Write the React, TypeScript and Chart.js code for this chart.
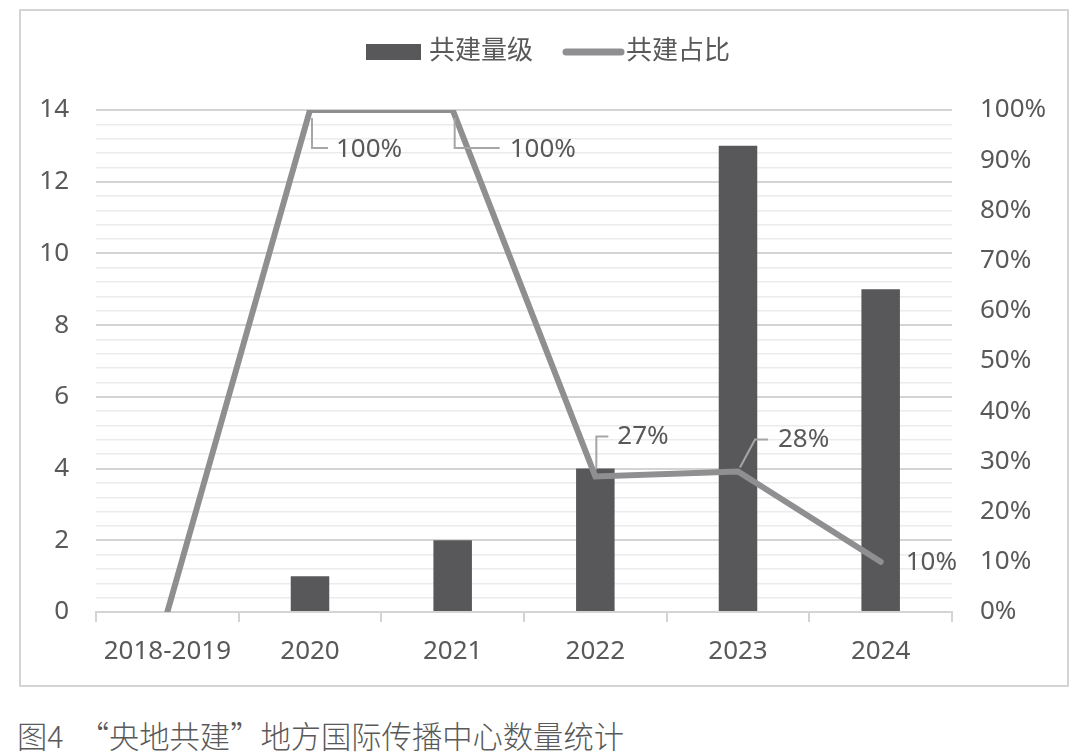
import React, { useEffect, useRef } from "react";
import { Chart, registerables } from "chart.js";

Chart.register(...registerables);

const categories = ["2018-2019", "2020", "2021", "2022", "2023", "2024"];
const countValues = [0, 1, 2, 4, 13, 9];
const shareValues = [0, 100, 100, 27, 28, 10];
const shareLabels = ["", "100%", "100%", "27%", "28%", "10%"];
const seriesNames = ["共建量级", "共建占比"];
const captionText = "图4　“央地共建”地方国际传播中心数量统计";

// label placement relative to each line point (style only)
const labelLayout = [
  null,
  { leader: [[2, 8], [2, 38], [18, 38]], tx: 26, ty: 40 },
  { leader: [[2, 8], [2, 38], [47, 38]], tx: 57, ty: 40 },
  { leader: [[1, -7], [1, -40], [13, -40]], tx: 22, ty: -40 },
  { leader: [[2, -4], [17, -32], [30, -32]], tx: 40, ty: -32 },
  { leader: null, tx: 25, ty: 1 },
];

const FONT = "'Noto Sans', 'Noto Sans CJK SC', sans-serif";
const TEXT = "#595959";
const BAR = "#58585a";
const LINE = "#8f8f91";

const labelPlugin = {
  id: "shareLabels",
  afterDatasetsDraw(chart: any) {
    const ctx = chart.ctx;
    const meta = chart.getDatasetMeta(1);
    ctx.save();
    ctx.font = `26px ${FONT}`;
    ctx.fillStyle = TEXT;
    ctx.textBaseline = "middle";
    ctx.textAlign = "left";
    meta.data.forEach((pt: any, i: number) => {
      const lay = labelLayout[i];
      if (!lay || !shareLabels[i]) return;
      const x = pt.x, y = pt.y;
      if (lay.leader) {
        ctx.strokeStyle = "#a6a6a6";
        ctx.lineWidth = 2;
        ctx.beginPath();
        lay.leader.forEach((p: number[], k: number) => {
          if (k === 0) ctx.moveTo(x + p[0], y + p[1]);
          else ctx.lineTo(x + p[0], y + p[1]);
        });
        ctx.stroke();
      }
      ctx.fillText(shareLabels[i], x + lay.tx, y + lay.ty);
    });
    ctx.restore();
  },
};

const legendPlugin = {
  id: "customLegend",
  afterDraw(chart: any) {
    const ctx = chart.ctx;
    ctx.save();
    ctx.font = `26px ${FONT}`;
    const w1 = ctx.measureText(seriesNames[0]).width;
    const w2 = ctx.measureText(seriesNames[1]).width;
    const sw1 = 55, sw2 = 61, g1 = 8, g2 = 30, g3 = 2;
    const total = sw1 + g1 + w1 + g2 + sw2 + g3 + w2;
    let x = chart.width / 2 + 4 - total / 2;
    const cy = 41;
    ctx.fillStyle = BAR;
    ctx.fillRect(x, cy - 8, sw1, 16);
    x += sw1 + g1;
    ctx.fillStyle = TEXT;
    ctx.textBaseline = "middle";
    ctx.textAlign = "left";
    ctx.fillText(seriesNames[0], x, cy);
    x += w1 + g2;
    ctx.strokeStyle = LINE;
    ctx.lineWidth = 7;
    ctx.lineCap = "round";
    ctx.beginPath();
    ctx.moveTo(x + 3, cy);
    ctx.lineTo(x + sw2 - 3, cy);
    ctx.stroke();
    x += sw2 + g3;
    ctx.fillText(seriesNames[1], x, cy);
    ctx.restore();
  },
};

const isMajor = (v: number) => Math.abs(v / 2 - Math.round(v / 2)) < 1e-6;

export default function App() {
  const ref = useRef<HTMLCanvasElement | null>(null);

  useEffect(() => {
    document.body.style.margin = "0";
    const chart = new Chart(ref.current as HTMLCanvasElement, {
      type: "bar",
      data: {
        labels: categories,
        datasets: [
          {
            type: "bar",
            label: seriesNames[0],
            data: countValues,
            backgroundColor: BAR,
            barPercentage: 0.27,
            categoryPercentage: 1,
            yAxisID: "y",
            order: 1,
          },
          {
            type: "line",
            label: seriesNames[1],
            data: shareValues,
            borderColor: LINE,
            backgroundColor: LINE,
            borderWidth: 6,
            pointRadius: 0,
            tension: 0,
            borderCapStyle: "round",
            borderJoinStyle: "miter",
            yAxisID: "y1",
            order: 0,
          } as any,
        ],
      },
      options: {
        animation: false,
        responsive: false,
        maintainAspectRatio: false,
        layout: { padding: { top: 99, left: 0, right: 0, bottom: 0 } },
        plugins: {
          legend: { display: false },
          tooltip: { enabled: false },
        },
        scales: {
          x: {
            grid: {
              offset: true,
              drawOnChartArea: false,
              drawTicks: true,
              tickLength: 10,
              color: "#d4d4d4",
              lineWidth: 2,
            },
            border: { display: true, color: "#d4d4d4", width: 2 },
            ticks: {
              color: TEXT,
              font: { family: FONT, size: 26 },
              padding: 14,
              maxRotation: 0,
            },
            afterFit: (s: any) => {
              s.height = 73;
            },
          },
          y: {
            position: "left",
            min: 0,
            max: 14,
            ticks: {
              stepSize: 0.4,
              autoSkip: false,
              color: TEXT,
              font: { family: FONT, size: 26 },
              padding: 27,
              callback: (v: any) => (isMajor(Number(v)) ? String(Math.round(Number(v))) : ""),
            },
            grid: {
              drawTicks: false,
              color: (c: any) => (isMajor(c.tick.value) ? "#d4d4d4" : "#ebebeb"),
              lineWidth: (c: any) => (isMajor(c.tick.value) ? 2 : 1.5),
            },
            border: { display: false },
            afterFit: (s: any) => {
              s.width = 75;
            },
          },
          y1: {
            position: "right",
            min: 0,
            max: 100,
            ticks: {
              stepSize: 10,
              color: TEXT,
              font: { family: FONT, size: 26 },
              padding: 28,
              callback: (v: any) => `${v}%`,
            },
            grid: { display: false, drawTicks: false },
            border: { display: false },
            afterFit: (s: any) => {
              s.width = 115;
            },
          },
        },
      },
      plugins: [labelPlugin, legendPlugin],
    });
    return () => chart.destroy();
  }, []);

  return (
    <div style={{ position: "relative", width: 1080, height: 753, background: "#fff", overflow: "hidden" }}>
      <div
        style={{
          position: "absolute",
          left: 19,
          top: 9,
          width: 1050,
          height: 678,
          boxSizing: "border-box",
          border: "2px solid #d4d4d4",
        }}
      >
        <canvas ref={ref} width={1046} height={674} style={{ display: "block", width: 1046, height: 674 }} />
      </div>
      <div
        style={{
          position: "absolute",
          left: 17,
          top: 715,
          fontFamily: "'Noto Sans CJK SC', sans-serif",
          fontSize: 30.3,
          fontWeight: 300,
          color: TEXT,
          whiteSpace: "pre",
          lineHeight: "40px",
        }}
      >
        {captionText}
      </div>
    </div>
  );
}
